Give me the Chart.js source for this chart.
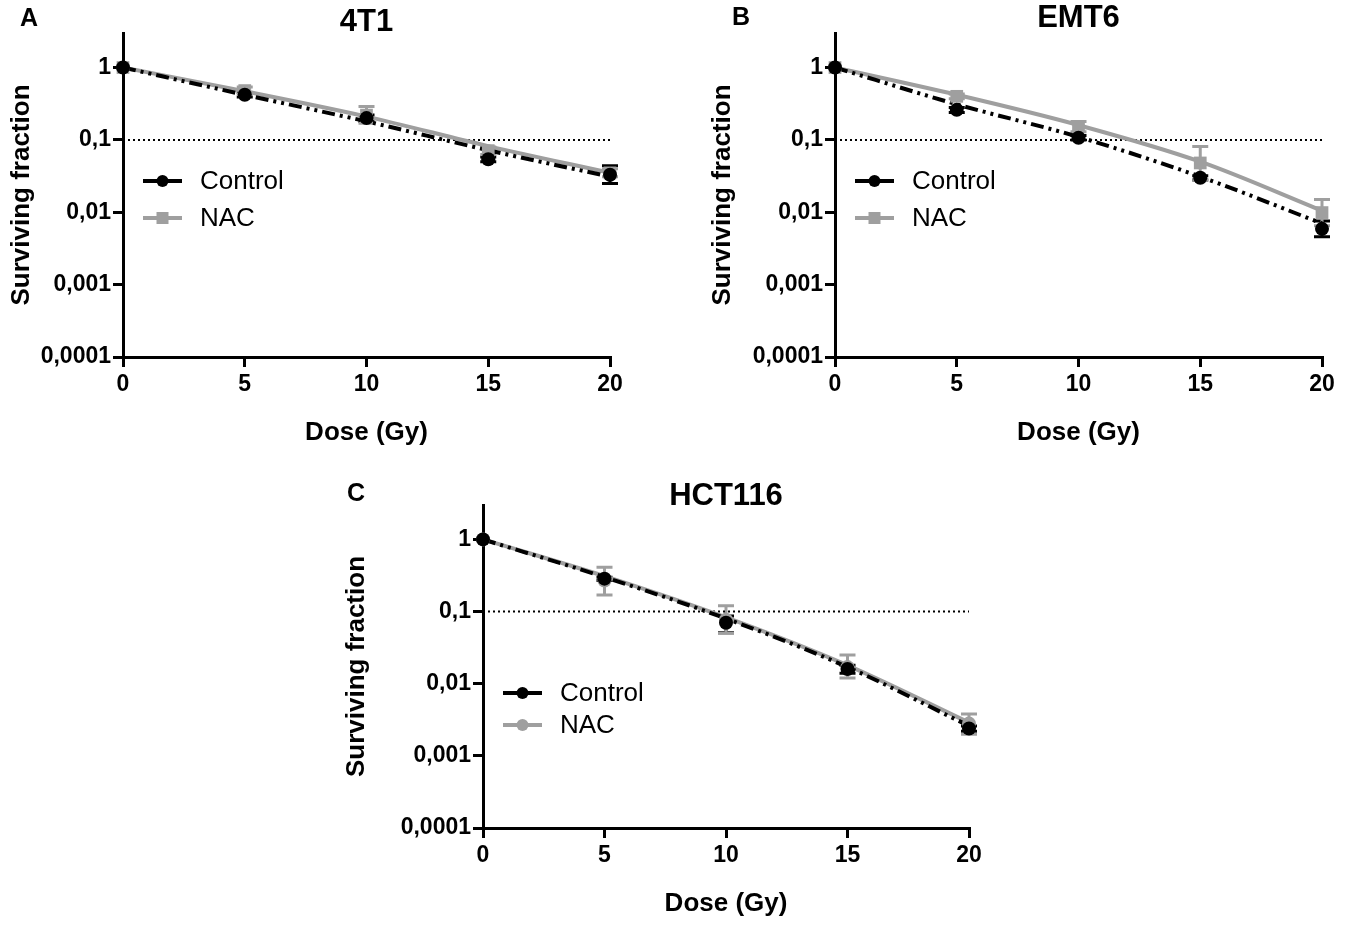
<!DOCTYPE html>
<html>
<head>
<meta charset="utf-8">
<script src="https://cdn.jsdelivr.net/npm/chart.js@4.4.1/dist/chart.umd.min.js"></script>
<style>
  body { margin: 0; background: #fff; width: 1347px; height: 930px; position: relative; overflow: hidden; }
  canvas { position: absolute; }
</style>
</head>
<body>
<canvas id="chartA" width="670" height="460" style="left:0;top:0"></canvas>
<canvas id="chartB" width="647" height="460" style="left:700px;top:0"></canvas>
<canvas id="chartC" width="690" height="460" style="left:330px;top:470px"></canvas>
<script>
// data
const doses = [0, 5, 10, 15, 20];
const yTickValues = [0.0001, 0.001, 0.01, 0.1, 1];
const yTickLabels = ['0,0001', '0,001', '0,01', '0,1', '1'];
const seriesNames = ['Control', 'NAC'];
const threshold = 0.1;

// 4T1
const ctrl4T1 = [1, 0.42, 0.20, 0.054, 0.033];
const ctrl4T1Hi = [1, 0.45, 0.22, 0.058, 0.044];
const ctrl4T1Lo = [1, 0.39, 0.18, 0.050, 0.025];
const nac4T1 = [1, 0.48, 0.22, 0.071, 0.035];
const nac4T1Hi = [1, 0.54, 0.29, 0.080, 0.040];
const nac4T1Lo = [1, 0.43, 0.17, 0.063, 0.031];
const ctrl4T1Fit = [1, 0.42, 0.18, 0.072, 0.031];
const nac4T1Fit = [1, 0.47, 0.21, 0.082, 0.035];

// EMT6
const ctrlEMT6 = [1, 0.26, 0.107, 0.030, 0.0059];
const ctrlEMT6Hi = [1, 0.28, 0.115, 0.032, 0.0076];
const ctrlEMT6Lo = [1, 0.24, 0.100, 0.028, 0.0046];
const nacEMT6 = [1, 0.40, 0.152, 0.048, 0.0099];
const nacEMT6Hi = [1, 0.43, 0.180, 0.081, 0.015];
const nacEMT6Lo = [1, 0.37, 0.130, 0.028, 0.0065];
const ctrlEMT6Fit = [1, 0.31, 0.11, 0.031, 0.0070];
const nacEMT6Fit = [1, 0.42, 0.16, 0.050, 0.0105];

// HCT116
const ctrlHCT = [1, 0.286, 0.070, 0.016, 0.0024];
const ctrlHCTHi = [1, 0.30, 0.087, 0.018, 0.0026];
const ctrlHCTLo = [1, 0.27, 0.051, 0.014, 0.0022];
const nacHCT = [1, 0.27, 0.077, 0.017, 0.0028];
const nacHCTHi = [1, 0.41, 0.12, 0.025, 0.0038];
const nacHCTLo = [1, 0.17, 0.05, 0.012, 0.0020];
const ctrlHCTFit = [1, 0.30, 0.080, 0.017, 0.0026];
const nacHCTFit = [1, 0.31, 0.083, 0.018, 0.0029];

const FONT = "'Liberation Sans', Arial, Helvetica, sans-serif";
const GREY = '#9f9f9f';

function pts(arr) {
  return doses.map((d, i) => ({x: d, y: arr[i]}));
}

// error bars, titles and the little legend
const extras = {
  id: 'extras',
  beforeDatasetsDraw(chart) {
    const ctx = chart.ctx;
    const xs = chart.scales.x, ys = chart.scales.y;
    ctx.save();
    chart.data.datasets.forEach(ds => {
      if (!ds.hi) return;
      ctx.strokeStyle = ds.backgroundColor;
      ctx.lineWidth = 3;
      ds.hi.forEach((h, i) => {
        const l = ds.lo[i];
        if (h === l) return;
        const x = xs.getPixelForValue(ds.data[i].x);
        const yHi = ys.getPixelForValue(h);
        const yLo = ys.getPixelForValue(l);
        ctx.beginPath();
        ctx.moveTo(x, yHi); ctx.lineTo(x, yLo);
        ctx.moveTo(x - 8, yHi); ctx.lineTo(x + 8, yHi);
        ctx.moveTo(x - 8, yLo); ctx.lineTo(x + 8, yLo);
        ctx.stroke();
      });
    });
    ctx.restore();
  },
  afterDraw(chart, args, opts) {
    const ctx = chart.ctx;
    const area = chart.chartArea;
    ctx.save();
    ctx.fillStyle = '#000';
    ctx.textAlign = 'center';
    ctx.textBaseline = 'middle';
    ctx.font = 'bold 31px ' + FONT;
    ctx.fillText(opts.title, (area.left + area.right) / 2, opts.titleY);
    ctx.font = 'bold 25px ' + FONT;
    ctx.fillText(opts.letter, opts.letterX, opts.letterY);

    // legend
    const marks = chart.data.datasets.filter(d => d.inLegend);
    marks.forEach((ds, i) => {
      const y = opts.legendY + i * opts.legendGap;
      const x0 = opts.legendX;
      ctx.strokeStyle = ds.backgroundColor;
      ctx.lineWidth = 4;
      ctx.beginPath();
      ctx.moveTo(x0, y); ctx.lineTo(x0 + 39, y);
      ctx.stroke();
      ctx.fillStyle = ds.backgroundColor;
      if (ds.pointStyle === 'rect') {
        ctx.fillRect(x0 + 19.5 - 6, y - 6, 12, 12);
      } else {
        ctx.beginPath();
        ctx.arc(x0 + 19.5, y, 6, 0, Math.PI * 2);
        ctx.fill();
      }
      ctx.fillStyle = '#000';
      ctx.textAlign = 'left';
      ctx.font = '26px ' + FONT;
      ctx.fillText(ds.label, x0 + 57, y + 1);
    });
    ctx.restore();
  }
};

function makePanel(id, cfg) {
  const datasets = [
    {
      label: seriesNames[0], data: pts(cfg.ctrl), hi: cfg.ctrlHi, lo: cfg.ctrlLo, inLegend: true,
      showLine: false, pointStyle: 'circle', pointRadius: 7, backgroundColor: '#000',
      borderColor: '#000', borderWidth: 0, order: 0, clip: false
    },
    {
      label: seriesNames[1], data: pts(cfg.nac), hi: cfg.nacHi, lo: cfg.nacLo, inLegend: true,
      showLine: false, pointStyle: cfg.nacStyle, pointRadius: cfg.nacStyle === 'rect' ? 9 : 7,
      backgroundColor: GREY, borderColor: GREY, borderWidth: 0, order: 1, clip: false
    },
    {
      label: 'Control fit', data: pts(cfg.ctrlFit), borderColor: '#000', backgroundColor: '#000',
      borderWidth: 4, borderDash: [13, 5, 3, 5, 3, 5], pointRadius: 0,
      cubicInterpolationMode: 'monotone', order: 2, clip: false
    },
    {
      label: 'NAC fit', data: pts(cfg.nacFit), borderColor: GREY, backgroundColor: GREY,
      borderWidth: 4, pointRadius: 0, cubicInterpolationMode: 'monotone', order: 3, clip: false
    },
    {
      label: 'threshold', data: [{x: doses[0], y: threshold}, {x: doses[doses.length - 1], y: threshold}],
      borderColor: '#000', borderWidth: 2, borderDash: [2, 3], pointRadius: 0, order: 4
    }
  ];

  return new Chart(document.getElementById(id), {
    type: 'line',
    data: {datasets: datasets},
    options: {
      responsive: false,
      animation: false,
      events: [],
      layout: {padding: cfg.padding},
      plugins: {
        legend: {display: false},
        tooltip: {enabled: false},
        extras: cfg.extras
      },
      scales: {
        x: {
          type: 'linear', min: 0, max: 20,
          afterFit: s => { s.height = 100; },
          ticks: {stepSize: 5, padding: 4, color: '#000', font: {family: FONT, size: 23, weight: 'bold'}},
          grid: {drawOnChartArea: false, drawTicks: true, tickLength: 10, color: '#000', lineWidth: 3},
          border: {display: true, color: '#000', width: 3},
          title: {display: true, text: 'Dose (Gy)', color: '#000', padding: {top: 0, bottom: 9},
                  font: {family: FONT, size: 26, weight: 'bold'}}
        },
        y: {
          type: 'logarithmic', min: 0.0001, max: 3,
          afterFit: s => { s.width = cfg.yWidth; },
          afterBuildTicks: s => { s.ticks = yTickValues.map(v => ({value: v})); },
          ticks: {
            padding: 2, color: '#000', font: {family: FONT, size: 23, weight: 'bold'},
            callback: v => {
              const i = yTickValues.findIndex(t => Math.abs(t - v) / t < 1e-6);
              return i >= 0 ? yTickLabels[i] : '';
            }
          },
          grid: {drawOnChartArea: false, drawTicks: true, tickLength: 10, color: '#000', lineWidth: 3},
          border: {display: true, color: '#000', width: 3},
          title: {display: true, text: 'Surviving fraction', color: '#000', padding: {top: cfg.yTitlePad, bottom: 0},
                  font: {family: FONT, size: 26, weight: 'bold'}}
        }
      }
    },
    plugins: [extras]
  });
}

makePanel('chartA', {
  ctrl: ctrl4T1, ctrlHi: ctrl4T1Hi, ctrlLo: ctrl4T1Lo, nac: nac4T1, nacHi: nac4T1Hi, nacLo: nac4T1Lo,
  ctrlFit: ctrl4T1Fit, nacFit: nac4T1Fit, nacStyle: 'rect',
  padding: {left: 0, top: 33, right: 60, bottom: 3}, yWidth: 123, yTitlePad: 6,
  extras: {title: '4T1', titleY: 22, letter: 'A', letterX: 29, letterY: 19,
           legendX: 143, legendY: 181, legendGap: 37}
});

makePanel('chartB', {
  ctrl: ctrlEMT6, ctrlHi: ctrlEMT6Hi, ctrlLo: ctrlEMT6Lo, nac: nacEMT6, nacHi: nacEMT6Hi, nacLo: nacEMT6Lo,
  ctrlFit: ctrlEMT6Fit, nacFit: nacEMT6Fit, nacStyle: 'rect',
  padding: {left: 0, top: 33, right: 25, bottom: 3}, yWidth: 135, yTitlePad: 7,
  extras: {title: 'EMT6', titleY: 18, letter: 'B', letterX: 41, letterY: 18,
           legendX: 155, legendY: 181, legendGap: 37}
});

makePanel('chartC', {
  ctrl: ctrlHCT, ctrlHi: ctrlHCTHi, ctrlLo: ctrlHCTLo, nac: nacHCT, nacHi: nacHCTHi, nacLo: nacHCTLo,
  ctrlFit: ctrlHCTFit, nacFit: nacHCTFit, nacStyle: 'circle',
  padding: {left: 0, top: 35, right: 51, bottom: 2}, yWidth: 153, yTitlePad: 11,
  extras: {title: 'HCT116', titleY: 26, letter: 'C', letterX: 26, letterY: 24,
           legendX: 173, legendY: 223, legendGap: 32}
});
</script>
</body>
</html>
